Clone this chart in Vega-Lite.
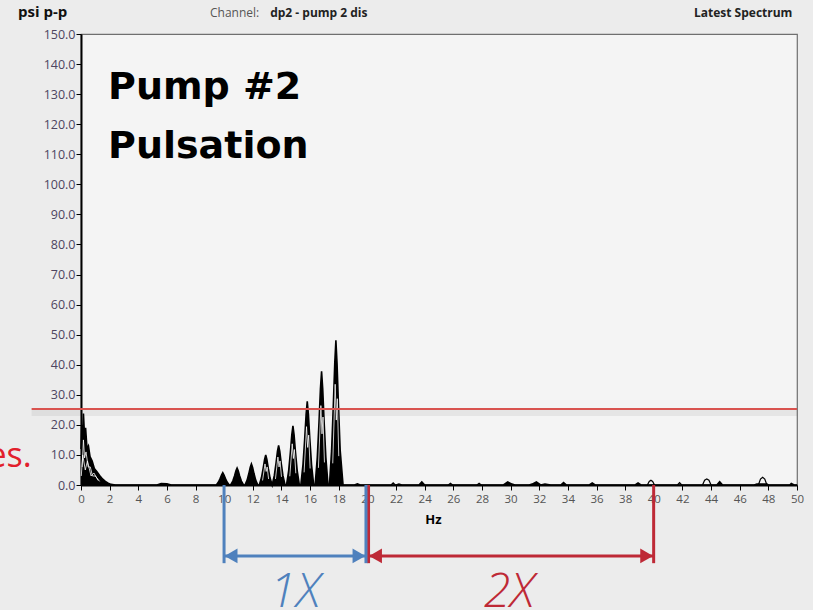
{
  "$schema": "https://vega.github.io/schema/vega-lite/v6.json",
  "width": 716,
  "height": 451,
  "autosize": {"type": "none"},
  "padding": {"left": 81, "top": 34, "right": 16, "bottom": 125},
  "background": "#ececec",
  "config": {
    "font": "Open Sans",
    "view": {"stroke": "#6f6f6f", "strokeWidth": 1.2, "fill": "#f4f4f4"},
    "axis": {
      "labelOverlap": false,
      "labelFlush": false,
      "labelFontSize": 11.5,
      "tickColor": "#000000",
      "tickSize": 5,
      "tickWidth": 1,
      "domainColor": "#000000",
      "domainWidth": 2,
      "grid": false
    },
    "axisX": {"labelColor": "#555555", "labelPadding": 3},
    "axisY": {"labelColor": "#4e4560", "labelPadding": 1, "labelFontSize": 12.5}
  },
  "datasets": {
    "spec": [
      {"hz": 0, "psi": 12, "trace": "f"}, {"hz": 0.05, "psi": 20, "trace": "f"}, {"hz": 0.1, "psi": 15, "trace": "f"},
      {"hz": 0.17, "psi": 23.8, "trace": "f"}, {"hz": 0.25, "psi": 16, "trace": "f"}, {"hz": 0.32, "psi": 19, "trace": "f"},
      {"hz": 0.42, "psi": 12, "trace": "f"}, {"hz": 0.52, "psi": 13, "trace": "f"}, {"hz": 0.63, "psi": 9.4, "trace": "f"},
      {"hz": 0.78, "psi": 8, "trace": "f"}, {"hz": 0.93, "psi": 5.5, "trace": "f"}, {"hz": 1.1, "psi": 4.5, "trace": "f"},
      {"hz": 1.3, "psi": 3.2, "trace": "f"}, {"hz": 1.5, "psi": 2, "trace": "f"}, {"hz": 1.7, "psi": 1.2, "trace": "f"},
      {"hz": 1.9, "psi": 0.6, "trace": "f"}, {"hz": 2.1, "psi": 0.2, "trace": "f"}, {"hz": 2.4, "psi": 0, "trace": "f"},
      {"hz": 5.3, "psi": 0, "trace": "f"}, {"hz": 5.6, "psi": 0.5, "trace": "f"}, {"hz": 6.0, "psi": 0.4, "trace": "f"},
      {"hz": 6.3, "psi": 0, "trace": "f"}, {"hz": 9.45, "psi": 0, "trace": "f"},
      {"hz": 9.6, "psi": 1.0, "trace": "f"}, {"hz": 9.72, "psi": 2.2, "trace": "f"}, {"hz": 9.82, "psi": 3.4, "trace": "f"},
      {"hz": 9.9, "psi": 4.1, "trace": "f"}, {"hz": 9.98, "psi": 3.4, "trace": "f"}, {"hz": 10.08, "psi": 2.2, "trace": "f"},
      {"hz": 10.2, "psi": 1.0, "trace": "f"}, {"hz": 10.35, "psi": 0, "trace": "f"},
      {"hz": 10.45, "psi": 0, "trace": "f"}, {"hz": 10.6, "psi": 1.3, "trace": "f"}, {"hz": 10.72, "psi": 3.0, "trace": "f"},
      {"hz": 10.82, "psi": 4.7, "trace": "f"}, {"hz": 10.9, "psi": 5.6, "trace": "f"}, {"hz": 10.98, "psi": 4.7, "trace": "f"},
      {"hz": 11.08, "psi": 3.0, "trace": "f"}, {"hz": 11.2, "psi": 1.3, "trace": "f"}, {"hz": 11.35, "psi": 0, "trace": "f"},
      {"hz": 11.45, "psi": 0, "trace": "f"}, {"hz": 11.6, "psi": 1.6, "trace": "f"}, {"hz": 11.72, "psi": 3.8, "trace": "f"},
      {"hz": 11.82, "psi": 5.9, "trace": "f"}, {"hz": 11.9, "psi": 7, "trace": "f"}, {"hz": 11.98, "psi": 5.9, "trace": "f"},
      {"hz": 12.08, "psi": 3.8, "trace": "f"}, {"hz": 12.2, "psi": 1.6, "trace": "f"}, {"hz": 12.35, "psi": 0, "trace": "f"},
      {"hz": 12.45, "psi": 0, "trace": "f"}, {"hz": 12.6, "psi": 2.4, "trace": "f"}, {"hz": 12.72, "psi": 5.5, "trace": "f"},
      {"hz": 12.82, "psi": 8.5, "trace": "f"}, {"hz": 12.9, "psi": 10, "trace": "f"}, {"hz": 12.98, "psi": 8.5, "trace": "f"},
      {"hz": 13.08, "psi": 5.5, "trace": "f"}, {"hz": 13.2, "psi": 2.4, "trace": "f"}, {"hz": 13.35, "psi": 0, "trace": "f"},
      {"hz": 13.5, "psi": 3.2, "trace": "f"}, {"hz": 13.62, "psi": 7.3, "trace": "f"}, {"hz": 13.72, "psi": 11.3, "trace": "f"},
      {"hz": 13.8, "psi": 13.2, "trace": "f"}, {"hz": 13.88, "psi": 11.3, "trace": "f"}, {"hz": 13.98, "psi": 7.3, "trace": "f"},
      {"hz": 14.1, "psi": 3.2, "trace": "f"}, {"hz": 14.25, "psi": 0, "trace": "f"},
      {"hz": 14.35, "psi": 0, "trace": "f"}, {"hz": 14.5, "psi": 4.7, "trace": "f"}, {"hz": 14.62, "psi": 10.8, "trace": "f"},
      {"hz": 14.72, "psi": 16.7, "trace": "f"}, {"hz": 14.8, "psi": 19.7, "trace": "f"}, {"hz": 14.88, "psi": 16.7, "trace": "f"},
      {"hz": 14.98, "psi": 10.8, "trace": "f"}, {"hz": 15.1, "psi": 4.7, "trace": "f"}, {"hz": 15.25, "psi": 0, "trace": "f"},
      {"hz": 15.35, "psi": 0, "trace": "f"}, {"hz": 15.5, "psi": 6.7, "trace": "f"}, {"hz": 15.62, "psi": 15.3, "trace": "f"},
      {"hz": 15.72, "psi": 23.5, "trace": "f"}, {"hz": 15.8, "psi": 27.8, "trace": "f"}, {"hz": 15.88, "psi": 23.5, "trace": "f"},
      {"hz": 15.98, "psi": 15.3, "trace": "f"}, {"hz": 16.1, "psi": 6.7, "trace": "f"}, {"hz": 16.25, "psi": 0, "trace": "f"},
      {"hz": 16.35, "psi": 0, "trace": "f"}, {"hz": 16.5, "psi": 9.1, "trace": "f"}, {"hz": 16.62, "psi": 20.8, "trace": "f"},
      {"hz": 16.72, "psi": 32, "trace": "f"}, {"hz": 16.8, "psi": 37.8, "trace": "f"}, {"hz": 16.88, "psi": 32, "trace": "f"},
      {"hz": 16.98, "psi": 20.8, "trace": "f"}, {"hz": 17.1, "psi": 9.1, "trace": "f"}, {"hz": 17.25, "psi": 0, "trace": "f"},
      {"hz": 17.35, "psi": 0, "trace": "f"}, {"hz": 17.5, "psi": 11.5, "trace": "f"}, {"hz": 17.62, "psi": 26.5, "trace": "f"},
      {"hz": 17.72, "psi": 40.5, "trace": "f"}, {"hz": 17.8, "psi": 48.1, "trace": "f"}, {"hz": 17.88, "psi": 40.5, "trace": "f"},
      {"hz": 17.98, "psi": 26.5, "trace": "f"}, {"hz": 18.1, "psi": 11.5, "trace": "f"}, {"hz": 18.3, "psi": 0, "trace": "f"},
      {"hz": 19.1, "psi": 0, "trace": "f"}, {"hz": 19.3, "psi": 0.4, "trace": "f"}, {"hz": 19.5, "psi": 0, "trace": "f"},
      {"hz": 22.0, "psi": 0, "trace": "f"}, {"hz": 22.2, "psi": 0.3, "trace": "f"}, {"hz": 22.4, "psi": 0, "trace": "f"},
      {"hz": 23.6, "psi": 0, "trace": "f"}, {"hz": 23.8, "psi": 1, "trace": "f"}, {"hz": 24.0, "psi": 0, "trace": "f"},
      {"hz": 29.5, "psi": 0, "trace": "f"}, {"hz": 29.8, "psi": 1, "trace": "f"}, {"hz": 30.1, "psi": 0.3, "trace": "f"},
      {"hz": 30.3, "psi": 0, "trace": "f"}, {"hz": 31.3, "psi": 0, "trace": "f"}, {"hz": 31.5, "psi": 0.3, "trace": "f"},
      {"hz": 31.8, "psi": 1, "trace": "f"}, {"hz": 32.1, "psi": 0, "trace": "f"}, {"hz": 32.4, "psi": 0.3, "trace": "f"},
      {"hz": 32.8, "psi": 0, "trace": "f"}, {"hz": 33.5, "psi": 0, "trace": "f"}, {"hz": 33.7, "psi": 0.8, "trace": "f"},
      {"hz": 33.9, "psi": 0, "trace": "f"}, {"hz": 35.5, "psi": 0, "trace": "f"}, {"hz": 35.7, "psi": 0.7, "trace": "f"},
      {"hz": 35.9, "psi": 0, "trace": "f"}, {"hz": 38.7, "psi": 0, "trace": "f"}, {"hz": 38.9, "psi": 0.7, "trace": "f"},
      {"hz": 39.1, "psi": 0, "trace": "f"}, {"hz": 44.4, "psi": 0, "trace": "f"}, {"hz": 44.6, "psi": 1.1, "trace": "f"},
      {"hz": 44.8, "psi": 0, "trace": "f"}, {"hz": 47.0, "psi": 0, "trace": "f"}, {"hz": 47.2, "psi": 0.3, "trace": "f"},
      {"hz": 47.9, "psi": 0.3, "trace": "f"}, {"hz": 48.0, "psi": 0, "trace": "f"}, {"hz": 49.5, "psi": 0, "trace": "f"},
      {"hz": 49.6, "psi": 0.5, "trace": "f"}, {"hz": 49.8, "psi": 0, "trace": "f"}, {"hz": 50, "psi": 0, "trace": "f"},

      {"hz": 0.08, "psi": 6, "trace": "w", "seg": "L1"}, {"hz": 0.17, "psi": 15, "trace": "w", "seg": "L1"},
      {"hz": 0.25, "psi": 9, "trace": "w", "seg": "L1"}, {"hz": 0.35, "psi": 11, "trace": "w", "seg": "L1"},
      {"hz": 0.5, "psi": 6, "trace": "w", "seg": "L1"}, {"hz": 0.65, "psi": 6, "trace": "w", "seg": "L1"},
      {"hz": 0.8, "psi": 3, "trace": "w", "seg": "L1"}, {"hz": 1.0, "psi": 3, "trace": "w", "seg": "L1"},
      {"hz": 1.3, "psi": 1.2, "trace": "w", "seg": "L1"},
      {"hz": 0.02, "psi": 3, "trace": "w", "seg": "L2"}, {"hz": 0.12, "psi": 10, "trace": "w", "seg": "L2"},
      {"hz": 0.3, "psi": 5, "trace": "w", "seg": "L2"}, {"hz": 0.45, "psi": 8, "trace": "w", "seg": "L2"},
      {"hz": 0.7, "psi": 3, "trace": "w", "seg": "L2"}, {"hz": 0.9, "psi": 4, "trace": "w", "seg": "L2"},
      {"hz": 1.2, "psi": 1.5, "trace": "w", "seg": "L2"},
      {"hz": 12.68, "psi": 1.5, "trace": "w", "seg": "p13"}, {"hz": 12.85, "psi": 7, "trace": "w", "seg": "p13"},
      {"hz": 12.93, "psi": 4.5, "trace": "w", "seg": "p13"}, {"hz": 13.0, "psi": 6, "trace": "w", "seg": "p13"},
      {"hz": 13.1, "psi": 2, "trace": "w", "seg": "p13"},
      {"hz": 13.58, "psi": 2, "trace": "w", "seg": "p14"}, {"hz": 13.75, "psi": 9.3, "trace": "w", "seg": "p14"},
      {"hz": 13.83, "psi": 6, "trace": "w", "seg": "p14"}, {"hz": 13.9, "psi": 8, "trace": "w", "seg": "p14"},
      {"hz": 14.0, "psi": 2.7, "trace": "w", "seg": "p14"},
      {"hz": 14.58, "psi": 2.9, "trace": "w", "seg": "p15"}, {"hz": 14.75, "psi": 13.7, "trace": "w", "seg": "p15"},
      {"hz": 14.83, "psi": 8.8, "trace": "w", "seg": "p15"}, {"hz": 14.9, "psi": 11.8, "trace": "w", "seg": "p15"},
      {"hz": 15.0, "psi": 3.9, "trace": "w", "seg": "p15"},
      {"hz": 15.58, "psi": 4.2, "trace": "w", "seg": "p16"}, {"hz": 15.75, "psi": 19.4, "trace": "w", "seg": "p16"},
      {"hz": 15.83, "psi": 12.5, "trace": "w", "seg": "p16"}, {"hz": 15.9, "psi": 16.6, "trace": "w", "seg": "p16"},
      {"hz": 16.0, "psi": 5.5, "trace": "w", "seg": "p16"},
      {"hz": 16.58, "psi": 5.7, "trace": "w", "seg": "p17"}, {"hz": 16.75, "psi": 26.4, "trace": "w", "seg": "p17"},
      {"hz": 16.83, "psi": 17, "trace": "w", "seg": "p17"}, {"hz": 16.9, "psi": 22.6, "trace": "w", "seg": "p17"},
      {"hz": 17.0, "psi": 7.5, "trace": "w", "seg": "p17"},
      {"hz": 17.58, "psi": 7.2, "trace": "w", "seg": "p18"}, {"hz": 17.75, "psi": 33.5, "trace": "w", "seg": "p18"},
      {"hz": 17.83, "psi": 21.6, "trace": "w", "seg": "p18"}, {"hz": 17.9, "psi": 28.7, "trace": "w", "seg": "p18"},
      {"hz": 18.0, "psi": 9.6, "trace": "w", "seg": "p18"},

      {"hz": 21.65, "psi": 0, "trace": "o", "seg": "o22"}, {"hz": 21.8, "psi": 0.7, "trace": "o", "seg": "o22"},
      {"hz": 21.95, "psi": 0, "trace": "o", "seg": "o22"},
      {"hz": 25.65, "psi": 0, "trace": "o", "seg": "o26"}, {"hz": 25.8, "psi": 0.6, "trace": "o", "seg": "o26"},
      {"hz": 25.95, "psi": 0, "trace": "o", "seg": "o26"},
      {"hz": 27.65, "psi": 0, "trace": "o", "seg": "o28"}, {"hz": 27.8, "psi": 0.6, "trace": "o", "seg": "o28"},
      {"hz": 27.95, "psi": 0, "trace": "o", "seg": "o28"},
      {"hz": 39.55, "psi": 0, "trace": "o", "seg": "o40"}, {"hz": 39.68, "psi": 1.2, "trace": "o", "seg": "o40"},
      {"hz": 39.8, "psi": 1.6, "trace": "o", "seg": "o40"}, {"hz": 39.92, "psi": 1.2, "trace": "o", "seg": "o40"},
      {"hz": 40.05, "psi": 0, "trace": "o", "seg": "o40"},
      {"hz": 41.65, "psi": 0, "trace": "o", "seg": "o42"}, {"hz": 41.8, "psi": 0.8, "trace": "o", "seg": "o42"},
      {"hz": 41.95, "psi": 0, "trace": "o", "seg": "o42"},
      {"hz": 43.4, "psi": 0, "trace": "o", "seg": "o44"}, {"hz": 43.55, "psi": 1.6, "trace": "o", "seg": "o44"},
      {"hz": 43.7, "psi": 2.0, "trace": "o", "seg": "o44"}, {"hz": 43.85, "psi": 1.6, "trace": "o", "seg": "o44"},
      {"hz": 44.0, "psi": 0, "trace": "o", "seg": "o44"},
      {"hz": 47.3, "psi": 0, "trace": "o", "seg": "o48"}, {"hz": 47.45, "psi": 2.0, "trace": "o", "seg": "o48"},
      {"hz": 47.6, "psi": 2.6, "trace": "o", "seg": "o48"}, {"hz": 47.75, "psi": 2.0, "trace": "o", "seg": "o48"},
      {"hz": 47.9, "psi": 0, "trace": "o", "seg": "o48"}
    ],
    "limit": [{"name": "alarm", "psi": 25.3}],
    "spans": [
      {"name": "1X", "start": 9.99, "end": 19.9, "center": 14.95},
      {"name": "2X", "start": 20.08, "end": 39.99, "center": 29.9}
    ],
    "labels": [
      {"key": "unit", "text": "psi p-p"},
      {"key": "channel", "text": "Channel:"},
      {"key": "source", "text": "dp2 - pump 2 dis"},
      {"key": "view", "text": "Latest Spectrum"},
      {"key": "title1", "text": "Pump #2"},
      {"key": "title2", "text": "Pulsation"},
      {"key": "aside", "text": "es."}
    ]
  },
  "layer": [
    {
      "data": {"name": "spec"},
      "transform": [{"filter": "datum.trace === 'f'"}],
      "mark": {"type": "area", "color": "#000000", "opacity": 1},
      "encoding": {
        "x": {
          "field": "hz", "type": "quantitative",
          "scale": {"domain": [0, 50], "nice": false, "zero": false},
          "axis": {
            "values": [0, 2, 4, 6, 8, 10, 12, 14, 16, 18, 20, 22, 24, 26, 28, 30, 32, 34, 36, 38, 40, 42, 44, 46, 48, 50],
            "tickCount": 40,
            "labelOverlap": false,
            "title": "Hz", "titleFontWeight": "bold", "titleFontSize": 13, "titleColor": "#000000",
            "titleX": 352, "titleY": 38, "titleBaseline": "alphabetic"
          }
        },
        "y": {
          "field": "psi", "type": "quantitative",
          "scale": {"domain": [0, 150], "nice": false},
          "axis": {
            "values": [0, 10, 20, 30, 40, 50, 60, 70, 80, 90, 100, 110, 120, 130, 140, 150],
            "tickCount": 40,
            "labelOverlap": false,
            "format": ".1f", "title": null
          }
        }
      }
    },
    {
      "data": {"name": "spec"},
      "transform": [{"filter": "datum.trace === 'f'"}],
      "mark": {"type": "line", "color": "#000000", "strokeWidth": 1.6},
      "encoding": {
        "x": {"field": "hz", "type": "quantitative"},
        "y": {"field": "psi", "type": "quantitative"}
      }
    },
    {
      "data": {"name": "spec"},
      "transform": [{"filter": "datum.trace === 'w'"}],
      "mark": {"type": "line", "color": "#ffffff", "strokeWidth": 0.8},
      "encoding": {
        "x": {"field": "hz", "type": "quantitative"},
        "y": {"field": "psi", "type": "quantitative"},
        "detail": {"field": "seg"}
      }
    },
    {
      "data": {"name": "spec"},
      "transform": [{"filter": "datum.trace === 'o'"}],
      "mark": {"type": "line", "color": "#000000", "strokeWidth": 1.2},
      "encoding": {
        "x": {"field": "hz", "type": "quantitative"},
        "y": {"field": "psi", "type": "quantitative"},
        "detail": {"field": "seg"}
      }
    },
    {
      "data": {"name": "limit"},
      "mark": {"type": "rule", "color": "#000000", "opacity": 0.06, "strokeWidth": 6, "yOffset": 4},
      "encoding": {
        "x": {"datum": -3.45, "type": "quantitative"},
        "x2": {"datum": 50},
        "y": {"field": "psi", "type": "quantitative"}
      }
    },
    {
      "data": {"name": "limit"},
      "mark": {"type": "rule", "color": "#d9534f", "strokeWidth": 2},
      "encoding": {
        "x": {"datum": -3.45, "type": "quantitative"},
        "x2": {"datum": 50},
        "y": {"field": "psi", "type": "quantitative"}
      }
    },
    {
      "data": {"name": "spans"},
      "mark": {"type": "rule", "strokeWidth": 3},
      "encoding": {
        "x": {"field": "start", "type": "quantitative"},
        "x2": {"field": "end"},
        "y": {"datum": -23.6, "type": "quantitative"},
        "color": {"field": "name", "type": "nominal", "scale": {"domain": ["1X", "2X"], "range": ["#4f81bd", "#be2936"]}, "legend": null}
      }
    },
    {
      "data": {"name": "spans"},
      "mark": {"type": "rule", "strokeWidth": 3},
      "encoding": {
        "x": {"field": "start", "type": "quantitative"},
        "y": {"datum": 0, "type": "quantitative"},
        "y2": {"datum": -26},
        "color": {"field": "name", "type": "nominal", "legend": null}
      }
    },
    {
      "data": {"name": "spans"},
      "mark": {"type": "rule", "strokeWidth": 3},
      "encoding": {
        "x": {"field": "end", "type": "quantitative"},
        "y": {"datum": 0, "type": "quantitative"},
        "y2": {"datum": -26},
        "color": {"field": "name", "type": "nominal", "legend": null}
      }
    },
    {
      "data": {"name": "spans"},
      "mark": {"type": "point", "shape": "triangle-left", "filled": true, "opacity": 1, "size": 220, "xOffset": 7},
      "encoding": {
        "x": {"field": "start", "type": "quantitative"},
        "y": {"datum": -23.6, "type": "quantitative"},
        "color": {"field": "name", "type": "nominal", "legend": null}
      }
    },
    {
      "data": {"name": "spans"},
      "mark": {"type": "point", "shape": "triangle-right", "filled": true, "opacity": 1, "size": 220, "xOffset": -7},
      "encoding": {
        "x": {"field": "end", "type": "quantitative"},
        "y": {"datum": -23.6, "type": "quantitative"},
        "color": {"field": "name", "type": "nominal", "legend": null}
      }
    },
    {
      "data": {"name": "spans"},
      "mark": {"type": "text", "fontSize": 48, "fontStyle": "italic", "fontWeight": 300, "font": "Open Sans", "align": "center", "baseline": "alphabetic"},
      "encoding": {
        "x": {"field": "center", "type": "quantitative"},
        "y": {"datum": -40.7, "type": "quantitative"},
        "text": {"field": "name"},
        "color": {"field": "name", "type": "nominal", "legend": null}
      }
    },
    {
      "data": {"name": "labels"},
      "transform": [{"filter": "datum.key === 'unit'"}],
      "mark": {"type": "text", "fontSize": 15, "fontWeight": "bold", "color": "#111111", "align": "left", "baseline": "alphabetic"},
      "encoding": {
        "x": {"datum": -4.4, "type": "quantitative"},
        "y": {"datum": 155.8, "type": "quantitative"},
        "text": {"field": "text"}
      }
    },
    {
      "data": {"name": "labels"},
      "transform": [{"filter": "datum.key === 'channel'"}],
      "mark": {"type": "text", "fontSize": 12, "color": "#555555", "align": "left", "baseline": "alphabetic"},
      "encoding": {
        "x": {"datum": 9.01, "type": "quantitative"},
        "y": {"datum": 155.6, "type": "quantitative"},
        "text": {"field": "text"}
      }
    },
    {
      "data": {"name": "labels"},
      "transform": [{"filter": "datum.key === 'source'"}],
      "mark": {"type": "text", "fontSize": 12, "fontWeight": "bold", "color": "#222222", "align": "left", "baseline": "alphabetic"},
      "encoding": {
        "x": {"datum": 13.21, "type": "quantitative"},
        "y": {"datum": 155.6, "type": "quantitative"},
        "text": {"field": "text"}
      }
    },
    {
      "data": {"name": "labels"},
      "transform": [{"filter": "datum.key === 'view'"}],
      "mark": {"type": "text", "fontSize": 12, "fontWeight": "bold", "color": "#222222", "align": "right", "baseline": "alphabetic"},
      "encoding": {
        "x": {"datum": 49.68, "type": "quantitative"},
        "y": {"datum": 155.6, "type": "quantitative"},
        "text": {"field": "text"}
      }
    },
    {
      "data": {"name": "labels"},
      "transform": [{"filter": "datum.key === 'title1'"}],
      "mark": {"type": "text", "font": "DejaVu Sans", "fontSize": 38, "fontWeight": "bold", "color": "#000000", "align": "left", "baseline": "alphabetic"},
      "encoding": {
        "x": {"datum": 1.89, "type": "quantitative"},
        "y": {"datum": 128.3, "type": "quantitative"},
        "text": {"field": "text"}
      }
    },
    {
      "data": {"name": "labels"},
      "transform": [{"filter": "datum.key === 'title2'"}],
      "mark": {"type": "text", "font": "DejaVu Sans", "fontSize": 38, "fontWeight": "bold", "color": "#000000", "align": "left", "baseline": "alphabetic"},
      "encoding": {
        "x": {"datum": 1.89, "type": "quantitative"},
        "y": {"datum": 108.7, "type": "quantitative"},
        "text": {"field": "text"}
      }
    },
    {
      "data": {"name": "labels"},
      "transform": [{"filter": "datum.key === 'aside'"}],
      "mark": {"type": "text", "font": "Open Sans", "fontSize": 34, "color": "#e2202b", "align": "right", "baseline": "alphabetic"},
      "encoding": {
        "x": {"datum": -3.44, "type": "quantitative"},
        "y": {"datum": 6.0, "type": "quantitative"},
        "text": {"field": "text"}
      }
    }
  ]
}
